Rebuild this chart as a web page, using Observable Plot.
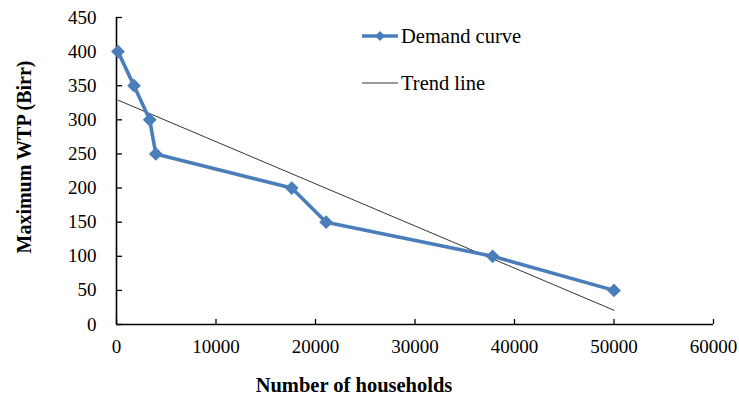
<!DOCTYPE html>
<html>
<head>
<meta charset="utf-8">
<script src="https://cdn.jsdelivr.net/npm/d3@7"></script>
<script src="https://cdn.jsdelivr.net/npm/@observablehq/plot@0.6"></script>
<style>
  html, body { margin: 0; padding: 0; background: #fff; }
  #wrap { position: relative; width: 739px; height: 395px; font-family: "Liberation Serif", "Times New Roman", serif; }
  #legend { position: absolute; left: 362px; top: 24px; font-size: 20.5px; color: #000; line-height: 1; }
  #legend .row { display: flex; align-items: center; height: 24px; }
  #legend .row + .row { margin-top: 23px; }
  #legend svg { display: block; margin-right: 3px; }
</style>
</head>
<body>
<div id="wrap">
  <div id="chart"></div>
  <div id="legend">
    <div class="row">
      <svg width="36" height="14"><line x1="0" y1="7" x2="36" y2="7" stroke="#4a7ebb" stroke-width="3.5"/><path d="M18,2 L23,7 L18,12 L13,7 Z" fill="#4a7ebb"/></svg>
      <span>Demand curve</span>
    </div>
    <div class="row">
      <svg width="36" height="14"><line x1="0" y1="7" x2="36" y2="7" stroke="#000" stroke-width="0.8"/></svg>
      <span>Trend line</span>
    </div>
  </div>
</div>
<script>
const households = [150, 1760, 3340, 3950, 17610, 21070, 37800, 50000];
const maxWTP = [400, 350, 300, 250, 200, 150, 100, 50];
const xTicks = [0, 10000, 20000, 30000, 40000, 50000, 60000];
const yTicks = [0, 50, 100, 150, 200, 250, 300, 350, 400, 450];
const xTitle = "Number of households";
const yTitle = "Maximum WTP (Birr)";
const blue = "#4a7ebb";
const serif = "Liberation Serif";

const data = households.map((h, i) => ({h, w: maxWTP[i]}));

const W = 739, H = 395, ML = 116, MR = 26, MT = 17, MB = 71;
const innerW = W - ML - MR, innerH = H - MT - MB;

const chart = Plot.plot({
  width: W,
  height: H,
  marginLeft: ML,
  marginRight: MR,
  marginTop: MT,
  marginBottom: MB,
  style: {color: "#000", background: "#fff", fontFamily: serif},
  x: {domain: [0, 60000], axis: null},
  y: {domain: [0, 450], axis: null},
  marks: [
    Plot.tickY(yTicks, {y: d => d, stroke: "#000", strokeWidth: 1.3, insetRight: innerW - 6}),
    Plot.tickX(xTicks, {x: d => d, stroke: "#000", strokeWidth: 1.3, insetTop: innerH - 5}),
    Plot.ruleX([0], {stroke: "#000", strokeWidth: 1.6}),
    Plot.ruleY([0], {stroke: "#000", strokeWidth: 1.6}),
    Plot.axisY({ticks: yTicks, tickSize: 0, tickPadding: 20, fontSize: 19, label: null, fill: "#000", fontFamily: serif}),
    Plot.axisX({ticks: xTicks, tickSize: 0, tickPadding: 15, fontSize: 19, label: null, fill: "#000", fontFamily: serif, tickFormat: d3.format("d")}),
    Plot.text([yTitle], {frameAnchor: "left", textAnchor: "middle", lineAnchor: "middle", dx: -92, dy: -14, rotate: -90, fontSize: 20, fontWeight: "bold", fill: "#000", fontFamily: serif}),
    Plot.text([xTitle], {frameAnchor: "bottom", textAnchor: "middle", lineAnchor: "middle", dx: -61, dy: 61, fontSize: 20.5, fontWeight: "bold", fill: "#000", fontFamily: serif}),
    Plot.linearRegressionY(data, {x: "h", y: "w", stroke: "#000", strokeWidth: 0.8, ci: 0}),
    Plot.line(data, {x: "h", y: "w", stroke: blue, strokeWidth: 3.6}),
    Plot.dot(data, {x: "h", y: "w", symbol: "diamond2", r: 6.2, fill: blue, stroke: "none"})
  ]
});
document.getElementById("chart").appendChild(chart);
</script>
</body>
</html>
